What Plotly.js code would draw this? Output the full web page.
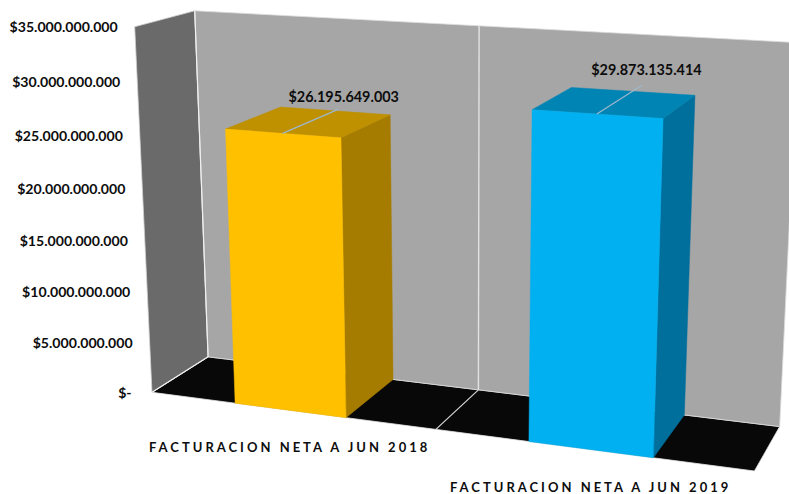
<!DOCTYPE html>
<html>
<head>
<meta charset="utf-8">
<script src="https://cdn.plot.ly/plotly-3.0.1.min.js"></script>
<style>
html,body{margin:0;padding:0;background:#fff;overflow:hidden}
.annotation-text{letter-spacing:3px}
</style>
</head>
<body>
<div id="chart" style="width:789px;height:494px"></div>
<script>
// ---- data ----
const categories = ["FACTURACION NETA A JUN 2018", "FACTURACION NETA A JUN 2019"];
const values = [26195649003, 29873135414];
const valueLabels = ["$26.195.649.003", "$29.873.135.414"];
const tickValues = [0, 5e9, 10e9, 15e9, 20e9, 25e9, 30e9, 35e9];
const tickLabels = ["$-\u00a0", "$5.000.000.000", "$10.000.000.000", "$15.000.000.000",
  "$20.000.000.000", "$25.000.000.000", "$30.000.000.000", "$35.000.000.000"];
const frontColors = ["#FFC000", "#00B0F0"];
const sideColors = ["#A67C00", "#006F9C"];
const topColors = ["#BF9000", "#0084B4"];

// ---- perspective scale of the 3-D chart box: (category, value, depth) -> pixel ----
const V_MAX = 35e9, N = categories.length;
const anchors = [ // [category pos, value, depth, px, py]
  [0, 35e9, 0, 134.5, 27], [0, 35e9, 1, 195, 11], [0, 0, 1, 208, 357], [0, 0, 0, 152, 392],
  [2, 35e9, 1, 798, 43], [2, 0, 1, 779.5, 426.5], [2, 0, 0, 754.5, 471],
  [1, 35e9, 1, 479, 25], [1, 0, 1, 478.5, 390], [1, 0, 0, 436, 429.5]
];
function fitCamera() {
  const A = [], b = [], S = 800;
  anchors.forEach(([u, v, w, x, y]) => {
    const X = [u / N, v / V_MAX, w, 1], px = x / S, py = y / S;
    A.push([...X, 0, 0, 0, 0, -px * X[0], -px * X[1], -px * X[2]]); b.push(px);
    A.push([0, 0, 0, 0, ...X, -py * X[0], -py * X[1], -py * X[2]]); b.push(py);
  });
  const n = 11, M = [];
  for (let i = 0; i < n; i++) {
    M.push([]);
    for (let j = 0; j < n; j++) M[i].push(A.reduce((s, r) => s + r[i] * r[j], 0));
    M[i].push(A.reduce((s, r, k) => s + r[i] * b[k], 0));
  }
  for (let i = 0; i < n; i++) {
    let p = i;
    for (let k = i + 1; k < n; k++) if (Math.abs(M[k][i]) > Math.abs(M[p][i])) p = k;
    [M[i], M[p]] = [M[p], M[i]];
    for (let k = 0; k < n; k++) if (k !== i) {
      const f = M[k][i] / M[i][i];
      for (let j = i; j <= n; j++) M[k][j] -= f * M[i][j];
    }
  }
  return M.map((r, i) => r[n] / r[i]);
}
const P = fitCamera();
function proj(u, v, w) {
  const X = [u / N, v / V_MAX, w, 1];
  const d = P[8] * X[0] + P[9] * X[1] + P[10] * X[2] + 1;
  return [
    800 * (P[0] * X[0] + P[1] * X[1] + P[2] * X[2] + P[3]) / d,
    800 * (P[4] * X[0] + P[5] * X[1] + P[6] * X[2] + P[7]) / d
  ];
}
function poly(pts, color, lineColor, lineW) {
  const c = pts.concat([pts[0]]);
  return {type: "scatter", mode: "lines", x: c.map(p => p[0]), y: c.map(p => p[1]),
    fill: "toself", fillcolor: color, hoverinfo: "skip",
    line: {color: lineColor || color, width: lineW === undefined ? 0.5 : lineW}};
}
function seg(a, b, color, width) {
  return {type: "scatter", mode: "lines", x: [a[0], b[0]], y: [a[1], b[1]],
    hoverinfo: "skip", line: {color, width}};
}
const traces = [];
// walls and floor
traces.push(poly([proj(0,0,1), proj(2,0,1), proj(2,0,0), proj(0,0,0)], "#080808", "#e6e6e6", 0.8));
traces.push(poly([proj(0,V_MAX,0), proj(0,V_MAX,1), proj(0,0,1), proj(0,0,0)], "#6a6a6a", "#d0d0d0", 0.8));
traces.push(poly([proj(0,V_MAX,1), proj(2,V_MAX,1), proj(2,0,1), proj(0,0,1)], "#a6a6a6", "#dcdcdc", 0.8));
traces.push(seg(proj(0,V_MAX,1), proj(0,0,1), "#f0f0f0", 1.2));
traces.push(seg(proj(0,0,1), proj(0,0,0), "#f0f0f0", 1.2));
// category divider
traces.push(seg(proj(1,V_MAX,1), proj(1,0,1), "#e2e2e2", 1.4));
traces.push(seg(proj(1,0,1), proj(1,0,0), "#d8d8d8", 1.2));
// bars
const H = 0.1955;
const leaderDepth = [1.07, 1.3];
const labelShift = [[9, -12], [14, -20]];
const labelX = [], labelY = [];
values.forEach((val, i) => {
  const c = i + 0.5, l = c - H, r = c + H;
  traces.push(poly([proj(r,val,0), proj(r,val,1), proj(r,0,1), proj(r,0,0)], sideColors[i]));
  traces.push(poly([proj(l,val,0), proj(l,val,1), proj(r,val,1), proj(r,val,0)], topColors[i]));
  traces.push(poly([proj(l,val,0), proj(r,val,0), proj(r,0,0), proj(l,0,0)], frontColors[i]));
  traces.push(seg(proj(c,val,0), proj(c,val,leaderDepth[i]), "#9db8cc", 1.2));
  const t = proj(c, val, 1);
  labelX.push(t[0] + labelShift[i][0]); labelY.push(t[1] + labelShift[i][1]);
});
const FONT = "Lato, 'Open Sans', sans-serif";
// value labels
traces.push({type: "scatter", mode: "text", x: labelX, y: labelY, text: valueLabels,
  textposition: "middle center", hoverinfo: "skip",
  textfont: {family: FONT, size: 14.4, color: "#0d0d0d", weight: 700}});
// value axis labels follow the front edge of the left wall
const tickPts = tickValues.map(v => proj(0, v, 0));
traces.push({type: "scatter", mode: "text", x: tickPts.map(p => p[0] - 17), y: tickPts.map(p => p[1] + 2),
  text: tickLabels, textposition: "middle left", hoverinfo: "skip", cliponaxis: false,
  textfont: {family: FONT, size: 14.1, color: "#0d0d0d", weight: 700}});
// category labels
const annotations = categories.map((name, i) => {
  const p = proj(i + 0.5, 0, 0);
  return {x: p[0], y: p[1] + 37, xref: "x", yref: "y", text: name, showarrow: false,
    xanchor: "center", yanchor: "middle", borderpad: 0,
    font: {family: FONT, size: 13, color: "#0d0d0d", weight: 700}};
});
Plotly.newPlot("chart", traces, {
  width: 789, height: 494, showlegend: false, hovermode: false,
  margin: {l: 0, r: 0, t: 0, b: 0},
  paper_bgcolor: "#ffffff", plot_bgcolor: "#ffffff",
  xaxis: {range: [0, 789], visible: false, fixedrange: true},
  yaxis: {range: [494, 0], visible: false, fixedrange: true},
  annotations
}, {displayModeBar: false, staticPlot: true});
</script>
</body>
</html>
